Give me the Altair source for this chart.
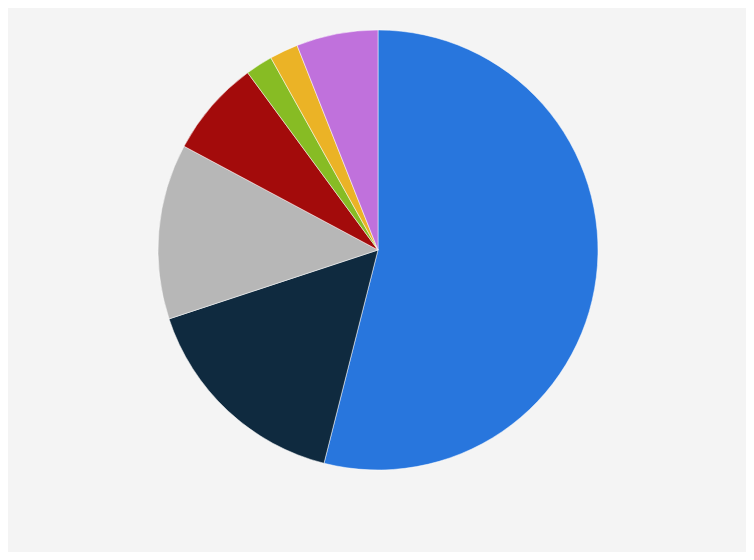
import altair as alt
import pandas as pd

categories = ["A", "B", "C", "D", "E", "F", "G"]
shares = [54.0, 16.0, 12.9, 7.1, 2.0, 2.1, 6.0]
colors = ["#2876dd", "#0f2a3f", "#b7b7b7", "#a30b0b", "#87bc24", "#ebb326", "#c071dc"]

df = pd.DataFrame({"category": categories, "share": shares, "idx": list(range(len(categories)))})

chart = alt.Chart(df).mark_arc(radius=220, stroke="#ffffff", strokeWidth=0.5).encode(
    theta=alt.Theta("share:Q", stack=True),
    color=alt.Color("category:N", scale=alt.Scale(domain=categories, range=colors), legend=None),
    order=alt.Order("idx:Q", sort="ascending"),
    x=alt.value(370),
    y=alt.value(242),
).properties(
    width=738,
    height=544,
    autosize=alt.AutoSizeParams(type="fit", contains="padding"),
    padding=0,
    background="#f4f4f4",
).configure_view(stroke=None)

chart.save("out.html", embed_options={"renderer": "svg", "actions": False})
